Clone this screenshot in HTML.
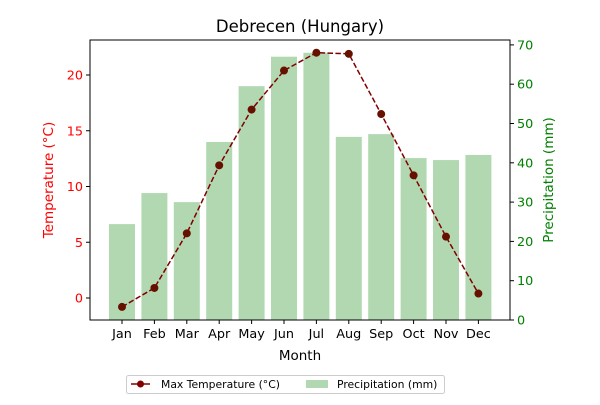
<!DOCTYPE html>
<html><head><meta charset="utf-8"><style>
body{margin:0;background:#fff;}
svg{font-family:"DejaVu Sans","Liberation Sans",sans-serif;}
</style></head><body>
<svg id="chart" width="600" height="400" viewBox="0 0 600 400">
<text x="300" y="32" text-anchor="middle" font-size="16.5">Debrecen (Hungary)</text>
<g id="bars"></g><g id="line"></g><g id="axes"></g>
<g>
<rect x="126.5" y="375.5" width="318" height="18" fill="#fff" stroke="#ccc" rx="2"/>
<line x1="131" y1="384" x2="150" y2="384" stroke="#800000" stroke-width="1.5"/>
<circle cx="140.5" cy="384" r="3.5" fill="#800000"/>
<text x="161" y="388" font-size="10.8">Max Temperature (°C)</text>
<rect x="306" y="380" width="22" height="8" fill="#b2d8b2"/>
<text x="337" y="388" font-size="10.8">Precipitation (mm)</text>
</g>
</svg>
<script>
const months=["Jan","Feb","Mar","Apr","May","Jun","Jul","Aug","Sep","Oct","Nov","Dec"];
const precip=[24.4,32.3,30,45.3,59.5,67,68,46.6,47.3,41.2,40.7,42];
const temps=[-0.8,0.9,5.8,11.9,16.9,20.4,22.0,21.9,16.5,11.0,5.5,0.4];
const leftTicks=[0,5,10,15,20];
const rightTicks=[0,10,20,30,40,50,60,70];
const NS="http://www.w3.org/2000/svg";
const L=90,R=510,T=40,B=320;
const xs=i=>122+i*32.4;
const yT=v=>298-v*11.15;
const yP=v=>320-v*3.93;
function mk(tag,attrs,parent,txt){const e=document.createElementNS(NS,tag);for(const k in attrs)e.setAttribute(k,attrs[k]);if(txt!==undefined)e.textContent=txt;document.getElementById(parent).appendChild(e);return e;}
precip.forEach((v,i)=>{const e=mk('rect',{x:xs(i)-13,y:yP(v),width:26,height:B-yP(v),fill:'#b2d8b2'},'bars');

});
const pl=mk('polyline',{points:temps.map((v,i)=>xs(i)+','+yT(v)).join(' '),fill:'none',stroke:'#800000','stroke-width':1.5,'stroke-dasharray':'5.5,2.4'},'line');


temps.forEach((v,i)=>{const c=mk('circle',{cx:xs(i),cy:yT(v),r:4,fill:'#661100'},'line');

});
mk('rect',{x:L,y:T,width:R-L,height:B-T,fill:'none',stroke:'#000','stroke-width':1},'axes');
leftTicks.forEach(v=>{const y=yT(v);mk('line',{x1:L-4,x2:L,y1:y,y2:y,stroke:'#000'},'axes');
const t=mk('text',{x:L-7,y:y+4.5,'text-anchor':'end','font-size':12.8,fill:'red'},'axes',v);
});
rightTicks.forEach(v=>{const y=yP(v);mk('line',{x1:R,x2:R+4,y1:y,y2:y,stroke:'#000'},'axes');
const t=mk('text',{x:R+7,y:y+4.5,'font-size':12.8,fill:'green'},'axes',v);
});
months.forEach((m,i)=>{mk('line',{x1:xs(i),x2:xs(i),y1:B,y2:B+4,stroke:'#000'},'axes');
const t=mk('text',{x:xs(i),y:B+18,'text-anchor':'middle','font-size':12.8},'axes',m);
});
let t=mk('text',{x:300,y:360,'text-anchor':'middle','font-size':13.5},'axes','Month');

t=mk('text',{x:0,y:0,'text-anchor':'middle','font-size':13.5,fill:'red',transform:'translate(53,180) rotate(-90)'},'axes','Temperature (°C)');

t=mk('text',{x:0,y:0,'text-anchor':'middle','font-size':13.5,fill:'green',transform:'translate(553,180) rotate(-90)'},'axes','Precipitation (mm)');

</script>
</body></html>
